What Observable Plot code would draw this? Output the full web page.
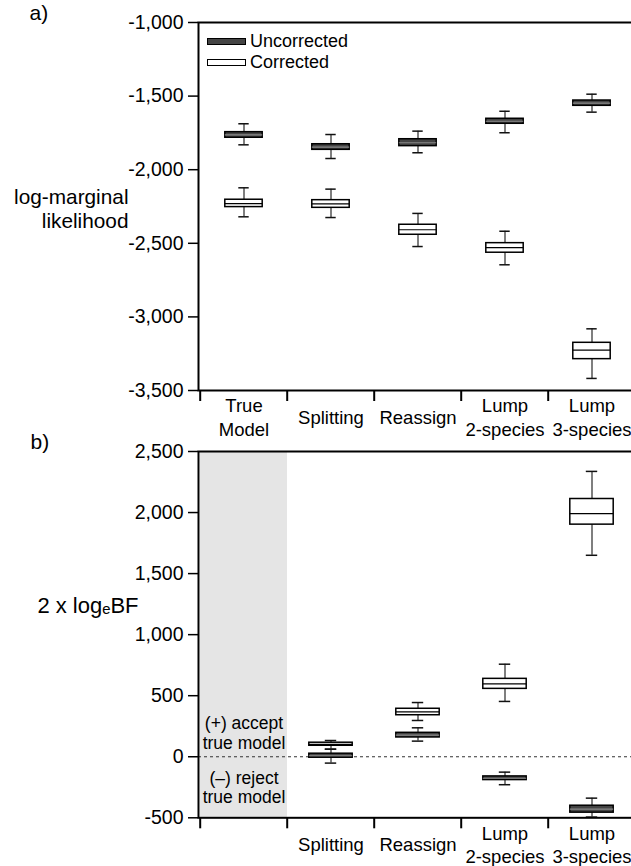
<!DOCTYPE html>
<html>
<head>
<meta charset="utf-8">
<script src="https://cdn.jsdelivr.net/npm/d3@7"></script>
<script src="https://cdn.jsdelivr.net/npm/@observablehq/plot@0.6"></script>
<style>
  html, body { margin: 0; padding: 0; background: #fff; }
  #wrap { position: relative; width: 631px; height: 866px; overflow: hidden; font-family: "Liberation Sans", Arial, sans-serif; }
  #wrap > svg, #wrap > figure { position: absolute; left: 0; margin: 0; }
  .leg { position: absolute; font-size: 18px; line-height: 18px; color: #000; z-index: 2; }
  .sw { position: absolute; width: 37px; height: 5px; border: 1px solid #000; z-index: 2; }
</style>
</head>
<body>
<div id="wrap">
  <div class="sw" style="left:207px; top:38px; background:#444;"></div>
  <div class="leg" style="left:250px; top:32px;">Uncorrected</div>
  <div class="sw" style="left:207px; top:59px; background:#fff;"></div>
  <div class="leg" style="left:250px; top:53px;">Corrected</div>
</div>
<script>
// ---- data ----
const categories = ["True Model", "Splitting", "Reassign", "Lump 2-species", "Lump 3-species"];
const labelsTop = ["True\nModel", "Splitting", "Reassign", "Lump\n2-species", "Lump\n3-species"];
const labelsBottom = ["", "Splitting", "Reassign", "Lump\n2-species", "Lump\n3-species"];

// [whisker low, q1, median, q3, whisker high]
const lmlUncorrected = [
  [-1831, -1783, -1764, -1745, -1688],
  [-1924, -1865, -1846, -1827, -1761],
  [-1885, -1840, -1817, -1793, -1738],
  [-1749, -1688, -1671, -1654, -1603],
  [-1609, -1566, -1548, -1530, -1487]
];
const lmlCorrected = [
  [-2320, -2254, -2230, -2204, -2123],
  [-2325, -2259, -2232, -2207, -2132],
  [-2522, -2442, -2408, -2374, -2297],
  [-2646, -2564, -2530, -2499, -2418],
  [-3418, -3287, -3226, -3176, -3081]
];
const bfCategories = ["Splitting", "Reassign", "Lump 2-species", "Lump 3-species"];
const bfUncorrected = [
  [-52, -8, 8, 25, 62],
  [128, 158, 177, 196, 237],
  [-229, -191, -176, -161, -126],
  [-494, -458, -429, -401, -339]
];
const bfCorrected = [
  [62, 90, 102, 115, 133],
  [297, 340, 368, 393, 444],
  [453, 556, 597, 638, 758],
  [1650, 1901, 1991, 2111, 2337]
];
const ticksTop = [-1000, -1500, -2000, -2500, -3000, -3500];
const ticksBottom = [2500, 2000, 1500, 1000, 500, 0, -500];
const annotations = [
  {cat: "True Model", y: 195, text: "(+) accept\ntrue model"},
  {cat: "True Model", y: -248, text: "(\u2013) reject\ntrue model"}
];

// ---- layout ----
const W = 631, ML = 198, MR = -5;
const BW = (W - MR - ML) / categories.length;
const FONT = "\"Liberation Sans\", Arial, sans-serif";
const fmt = d => (d < 0 ? "-" : "") + d3.format(",")(Math.abs(d));

function rows(cats, arr) {
  return arr.map((v, i) => ({cat: cats[i], min: v[0], q1: v[1], med: v[2], q3: v[3], max: v[4]}));
}

function boxMarks(data, boxW, capW, fill, medStroke) {
  const bi = (BW - boxW) / 2, ci = (BW - capW) / 2;
  return [
    Plot.ruleX(data, {x: "cat", y1: "min", y2: "max", stroke: "#555", strokeWidth: 1.5}),
    Plot.tickY(data, {x: "cat", y: "min", insetLeft: ci, insetRight: ci, stroke: "#111", strokeWidth: 1.5}),
    Plot.tickY(data, {x: "cat", y: "max", insetLeft: ci, insetRight: ci, stroke: "#111", strokeWidth: 1.5}),
    Plot.barY(data, {x: "cat", y1: "q1", y2: "q3", insetLeft: bi, insetRight: bi, fill, stroke: "#000", strokeWidth: 1.5}),
    Plot.tickY(data, {x: "cat", y: "med", insetLeft: bi, insetRight: bi, stroke: medStroke, strokeWidth: 1.2})
  ];
}

const wrap = document.getElementById("wrap");

// ---- panel a ----
const plotA = Plot.plot({
  width: W, height: 440,
  marginLeft: ML, marginRight: MR, marginTop: 22, marginBottom: 50,
  style: {fontFamily: FONT, fontSize: "18.5px", background: "transparent", overflow: "visible", color: "#000"},
  x: {domain: categories, padding: 0, axis: null},
  y: {domain: [-3500, -1000], axis: null},
  marks: [
    ...boxMarks(rows(categories, lmlCorrected), 38, 11, "#fff", "#000"),
    ...boxMarks(rows(categories, lmlUncorrected), 38, 11, "#444", "#888"),
    Plot.frame({stroke: "#000", strokeWidth: 2}),
    Plot.axisY({ticks: ticksTop, tickSize: 10, tickPadding: 5, tickFormat: fmt, strokeWidth: 1.5, label: null, fontSize: 19.5}),
    Plot.axisX({tickSize: 11, tickFormat: () => "", dx: -BW / 2, strokeWidth: 2, label: null}),
    Plot.text(categories.map((c, i) => ({cat: c, label: labelsTop[i]})),
      {x: "cat", text: "label", frameAnchor: "bottom", dy: 26, lineAnchor: "middle", lineHeight: 1.26}),
    Plot.text(["log-marginal\nlikelihood"], {frameAnchor: "left", dx: -70, dy: 2, textAnchor: "end", lineAnchor: "middle", lineHeight: 1.13, fontSize: 20.8}),
    Plot.text(["a)"], {frameAnchor: "top-left", dx: -169, dy: -9, textAnchor: "start", lineAnchor: "middle", fontSize: 21})
  ]
});
plotA.style.top = "0px";
wrap.insertBefore(plotA, wrap.firstChild);

// ---- panel b ----
const plotB = Plot.plot({
  width: W, height: 446,
  marginLeft: ML, marginRight: MR, marginTop: 31, marginBottom: 48.7,
  style: {fontFamily: FONT, fontSize: "18.5px", background: "transparent", overflow: "visible", color: "#000"},
  x: {domain: categories, padding: 0, axis: null},
  y: {domain: [-500, 2500], axis: null},
  marks: [
    Plot.barY([{cat: categories[0]}], {x: "cat", y1: ticksBottom[ticksBottom.length - 1], y2: ticksBottom[0], fill: "#e5e5e5"}),
    Plot.ruleY([0], {stroke: "#333", strokeWidth: 1, strokeDasharray: "3,3"}),
    ...boxMarks(rows(bfCategories, bfCorrected), 44, 12, "#fff", "#000"),
    ...boxMarks(rows(bfCategories, bfUncorrected), 44, 12, "#444", "#888"),
    Plot.frame({stroke: "#000", strokeWidth: 2}),
    Plot.axisY({ticks: ticksBottom, tickSize: 10, tickPadding: 5, tickFormat: fmt, strokeWidth: 1.5, label: null, fontSize: 19.5}),
    Plot.axisX({tickSize: 11, tickFormat: () => "", dx: -BW / 2, strokeWidth: 2, label: null}),
    Plot.text(categories.map((c, i) => ({cat: c, label: labelsBottom[i]})),
      {x: "cat", text: "label", frameAnchor: "bottom", dy: 26, lineAnchor: "middle", lineHeight: 1.26}),
    Plot.text(annotations, {x: "cat", y: "y", text: "text", lineAnchor: "middle", lineHeight: 1.1, fontSize: 17.5}),
    Plot.text(["2 x log\u2091BF"], {frameAnchor: "left", dx: -60, dy: -29, textAnchor: "end", lineAnchor: "middle", fontSize: 22}),
    Plot.text(["b)"], {frameAnchor: "top-left", dx: -168, dy: -9, textAnchor: "start", lineAnchor: "middle", fontSize: 21})
  ]
});
plotB.style.top = "420px";
wrap.insertBefore(plotB, wrap.firstChild);
</script>
</body>
</html>
